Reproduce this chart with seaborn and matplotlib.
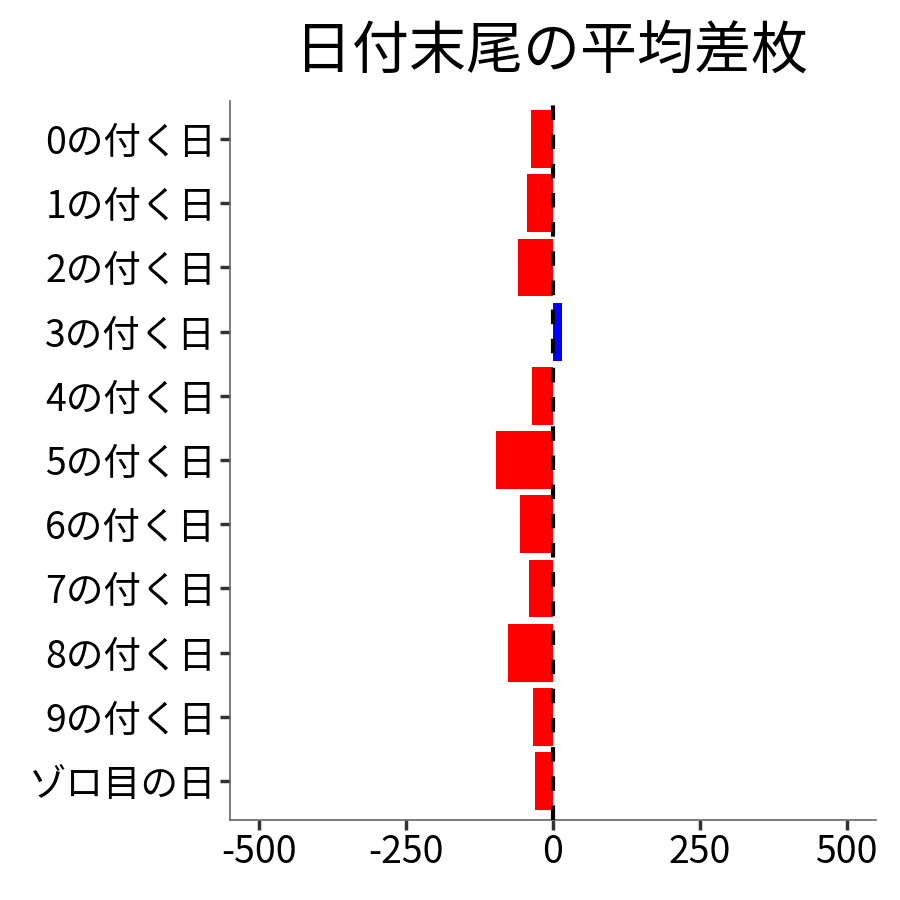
import matplotlib
matplotlib.use("Agg")
import matplotlib.pyplot as plt
import seaborn as sns
import pandas as pd

categories = ["0の付く日", "1の付く日", "2の付く日", "3の付く日", "4の付く日",
              "5の付く日", "6の付く日", "7の付く日", "8の付く日", "9の付く日", "ゾロ目の日"]
values = [-37, -44, -60, 15, -36, -97, -56, -41, -77, -34, -31]
xticks = [-500, -250, 0, 250, 500]
title = "日付末尾の平均差枚"

sns.set_theme(style="white")
plt.rcParams['font.family'] = ['Noto Sans CJK JP', 'DejaVu Sans']

df = pd.DataFrame({"cat": categories, "val": values})
df["sign"] = ["pos" if v > 0 else "neg" for v in values]

fig = plt.figure(figsize=(9, 9), dpi=100)
ax = fig.add_axes([0.2556, 0.0894, 0.7177, 0.7989])

sns.barplot(data=df, y="cat", x="val", hue="sign", order=categories,
            palette={"neg": "#FF0000", "pos": "#0000FF"}, width=0.9,
            dodge=False, legend=False, saturation=1, ax=ax, linewidth=0)

ax.axvline(0, color="black", linestyle=(0, (3.5, 3.5)), linewidth=3, zorder=5)

ax.set_xlim(-550, 550)
ax.set_ylim(len(categories) - 0.4, -0.6)
ax.set_xticks(xticks)
ax.set_xticklabels([str(t) for t in xticks])
ax.set_xlabel("")
ax.set_ylabel("")
ax.tick_params(axis="both", labelsize=27, length=7, width=2.5, color="#333333",
               labelcolor="black", pad=3, bottom=True, left=True)

for s in ["top", "right"]:
    ax.spines[s].set_visible(False)
for s in ["left", "bottom"]:
    ax.spines[s].set_color("#666666")
    ax.spines[s].set_linewidth(1.2)

fig.text((0.2556 + 0.9733) / 2 - 0.002, 0.925, title, ha="center", va="baseline",
         fontsize=41, color="black")

fig.savefig("out.png", dpi=100)
